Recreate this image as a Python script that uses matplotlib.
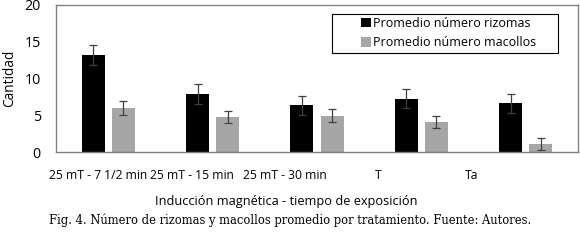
import numpy as np
import matplotlib.pyplot as plt
from matplotlib.patches import Rectangle

categories = ["25 mT - 7 1/2 min", "25 mT - 15 min", "25 mT - 30 min", "T", "Ta"]
rizomas = [13.2, 7.9, 6.35, 7.25, 6.6]
rizomas_err = [1.3, 1.35, 1.3, 1.3, 1.3]
macollos = [6.0, 4.75, 4.95, 4.05, 1.05]
macollos_err = [0.9, 0.85, 0.85, 0.8, 0.8]
yticks = [0, 5, 10, 15, 20]

plt.rcParams["font.family"] = ["Open Sans", "DejaVu Sans"]

fig = plt.figure(figsize=(5.8, 2.4), dpi=100)
ax = fig.add_axes([56 / 580, 1 - 152 / 240, 522 / 580, 147 / 240])

x = np.arange(len(categories))
w = 0.22
err_kw = dict(ecolor="#404040", elinewidth=0.9, capsize=3, capthick=0.9)
ax.bar(x - 0.144, rizomas, w, yerr=rizomas_err, color="black",
       label="Promedio número rizomas", error_kw=err_kw)
ax.bar(x + 0.144, macollos, w, yerr=macollos_err, color="#a6a6a6",
       label="Promedio número macollos", error_kw=err_kw)

ax.set_xlim(-0.5, len(categories) - 0.5)
ax.set_ylim(0, 20)
ax.set_yticks(yticks)
# the category labels in the source sit on a tighter spacing than the bars
ax.set_xticks(-0.094 + 0.893 * x)
ax.set_xticklabels(categories, fontsize=8.7)
ax.tick_params(axis="y", labelsize=10.3, length=0, pad=11)
ax.tick_params(axis="x", length=0, pad=12)
for s in ax.spines.values():
    s.set_color("#808080")
    s.set_linewidth(1.0)

ax.set_ylabel("Cantidad", fontsize=9.8, labelpad=5)
fig.text(286 / 580, 1 - 202 / 240, "Inducción magnética - tiempo de exposición",
         ha="center", va="center", fontsize=9.2)

# legend: text without frame, box drawn separately
leg = ax.legend(loc="upper left", bbox_to_anchor=((361 - 56) / 522, (152 - 17) / 147),
                fontsize=9.0, frameon=False,
                handlelength=0.8, handleheight=0.8, handletextpad=0.15,
                borderpad=0, labelspacing=0.5, borderaxespad=0)
ax.add_patch(Rectangle(((332 - 56) / 522, (152 - 53) / 147), 226 / 522, 39 / 147,
                       transform=ax.transAxes, fill=False, edgecolor="black",
                       linewidth=0.8, zorder=5))

fig.text(0.5, 1 - 220 / 240,
         "Fig. 4. Número de rizomas y macollos promedio por tratamiento. Fuente: Autores.",
         ha="center", va="center", fontsize=8.3, family="DejaVu Serif")

fig.savefig("out.png", dpi=100)
